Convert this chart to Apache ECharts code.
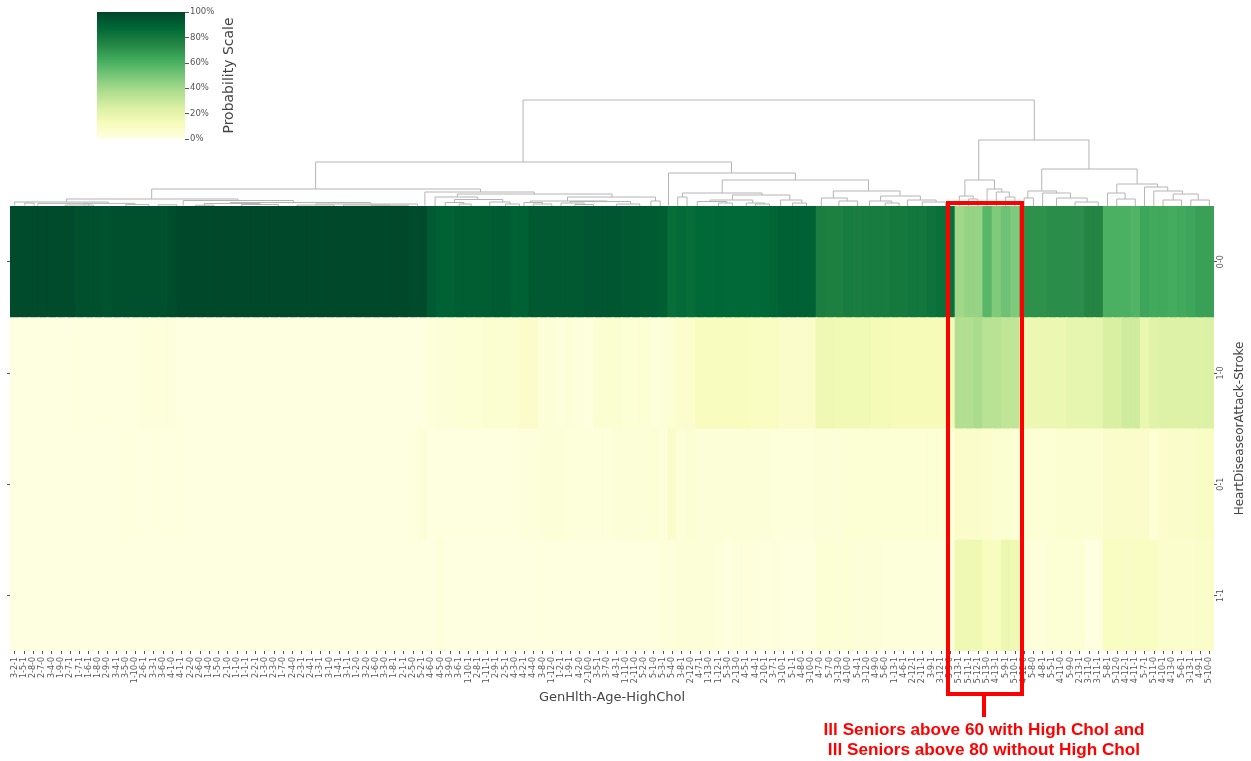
<!DOCTYPE html>
<html>
<head>
<meta charset="utf-8">
<title>Clustermap</title>
<script src="https://cdn.jsdelivr.net/npm/echarts@6/dist/echarts.min.js"></script>
<style>
  html, body { margin: 0; background: #fff; }
  #chart { width: 1251px; height: 761px; }
</style>
</head>
<body>
<div id="chart"></div>
<script>
// GenHlth-Age-HighChol, in dendrogram order
const columns = [
  '3-2-1','1-5-1','2-8-0','2-7-0','3-4-0','1-9-0','2-7-1','1-7-1','1-6-1','1-8-0','2-9-0','3-4-1','3-5-0','1-10-0','2-6-1','3-3-1','3-6-0','4-1-0','4-1-1',
  '2-2-0','2-6-0','1-4-0','1-5-0','2-1-0','1-1-0','1-1-1','2-2-1','1-3-0','2-3-0','1-7-0','2-4-0','2-3-1','2-4-1','1-3-1','3-1-0','1-4-1','3-1-1','1-2-0','3-2-0','1-6-0','3-3-0','1-8-1','2-1-1','2-5-0','5-2-1',
  '4-6-0','4-5-0','3-9-0','3-6-1','1-10-1','2-8-1','1-11-1','2-9-1','2-5-1','4-3-0','4-2-1','4-4-0','3-8-0','1-12-0','1-2-1','1-9-1','4-2-0','2-10-0','3-5-1','3-7-0','4-3-1','1-11-0','2-11-0','5-2-0','5-1-0',
  '5-3-1','5-4-0','3-8-1','2-12-0','4-7-1','1-13-0','1-12-1','5-3-0','2-13-0','4-5-1','4-4-1','2-10-1','3-7-1','3-10-1','5-1-1','4-8-0','3-10-0',
  '4-7-0','5-7-0','3-13-0','4-10-0','5-4-1','3-12-0','4-9-0','5-6-0','1-13-1','4-6-1','2-12-1','2-11-1','3-9-1','3-12-1','5-5-0',
  '5-13-1','5-11-1','5-12-1','5-13-0','4-13-1','5-9-1','5-10-1',
  '4-12-0','5-8-0','4-8-1','5-5-1','4-11-0','5-9-0','2-13-1','3-11-0','3-11-1','5-8-1','5-12-0','4-12-1','4-11-1','5-7-1','5-11-0','4-10-1','4-13-0','5-6-1','3-13-1','4-9-1','5-10-0'
];

// HeartDiseaseorAttack-Stroke
const rows = ['0-0', '1-0', '0-1', '1-1'];

// probability in percent, one value per column
const row00 = [
  98,98,98,98,98,98,98,96,96,96,95,96,96,96,96,96,96,97,
  99,99,99,99,99,99,99,99,99,99, 99,99,99,99,99,99,99,99,99,99, 99,99,99,99,99,98,98,
  92,90,90,91,91,91,91,92,92,90,90,93,93,93,93,93,93,94,94,94,94,93,93,92,92,
  91,85,86,85,87,87,88,87,87,87,87,88,89,90,90,90,90,
  78,77,77,79,78,79,79,79,80,80,81,81,83,84,84,
  40,43,43,57,48,52,48,
  71,71,71,72,72,72,72,75,75,60,60,60,59,64,63,63,62,63,64,66,66
];
const row10 = [
  1,1,1,1,1,1,1,2,2,2,2,2,2,2,3,3,3,3,
  1,1,1,1,1,1,1,1,1,1, 1,1,1,1,1,1,1,1,1,1, 1,1,1,1,1,1,1,
  3,4,4,5,5,5,6,6,6,6,8,8,4,4,3,4,3,2,6,6,6,5,5,5,3,
  4,5,7,7,11,11,11,11,11,11,10,10,10,8,8,8,8,
  16,16,15,15,15,15,14,14,13,13,13,13,13,13,13,
  36,36,38,34,34,32,32,
  15,17,17,17,17,19,19,19,19,25,25,28,28,18,22,23,23,23,23,23,24
];
const row01 = [
  1,1,1,1,1,1,1,1,1,1,1,1,2,2,1,2,2,2,2,
  1,1,1,1,1,1,1,1,1,1, 1,1,1,1,1,1,1,1,1,1, 1,1,1,1,2,4,
  2,2,2,2,2,2,2,2,2,2,3,3,4,4,4,3,3,3,3,3,4,4,4,4,5,
  3,8,4,6,4,4,4,4,4,4,4,4,3,3,3,3,3,
  4,4,4,5,5,5,5,5,5,5,5,5,5,5,5,
  8,8,8,7,6,6,5,
  5,5,5,5,6,6,6,6,6,8,8,8,8,8,5,7,8,8,8,9,9
];
const row11 = [
  1,1,1,1,1,1,1,1,1,1,1,1,1,1,1,1,1,1,1,
  1,1,1,1,1,1,1,1,1,1, 1,1,1,1,1,1,1,1,1,1, 1,1,1,1,1,1,
  1,3,1,1,1,1,1,1,1,1,1,1,2,2,2,2,2,2,2,2,2,2,2,2,2,
  3,3,4,4,4,4,3,2,3,3,3,2,3,2,2,2,2,
  5,5,4,5,4,4,4,3,3,3,3,3,3,3,3,
  16,16,16,11,11,17,16,
  3,3,3,5,5,5,5,2,2,10,10,9,10,10,10,7,7,7,7,8,8
];

// YlGn
const palette = ['#ffffe5','#f7fcb9','#d9f0a3','#addd8e','#78c679','#41ab5d','#238443','#006837','#004529'];

// dendrogram merges: left column, left height, right column, right height, merge height
const dendroLinks = [
  [55.4,44,110.6,66,106],
  [33,17,77.9,33,44],
  [15.3,7,50.8,14,17],
  [71.1,0.5,84.8,26,33],
  [76.9,13,92.7,15,26],
  // left block
  [6.1,4,24.6,5.5,7],
  [0.5,0.5,10.6,2.5,4],
  [1.6,0.5,2.6,0.5,3],
  [3,0.3,8.5,0.3,2.6],
  [8,1,13.5,1,2.6],
  [6,0,9,0,1],
  [12.5,0,15,0,1.4],
  [16,0,18,0,1.2],
  [18.7,0.5,30.6,3,5.5],
  [23.8,2.5,38.9,2,3.5],
  [21,0,27,1.5,2.5],
  [25,0,29,0,1.5],
  [33,1,44,0.3,2],
  [31,0,35,0,1],
  [36,0,41,0,1],
  [39,0,43,0,0.7],
  [20,0,22,0,0.8],
  // second block
  [44.8,0.5,56.6,12,14],
  [48.3,9,65,9,12],
  [45.9,0,50.5,6.5,9],
  [48,3.5,53.2,4,6.5],
  [47,0,49,2,3.5],
  [48.5,0,49.8,0,2],
  [51.8,0,54,2,4],
  [53.5,0,55,0,2],
  [60.2,5,69.7,5,9],
  [56.2,3.5,64.5,4.5,5],
  [55.5,0,57.5,2,3.5],
  [56.5,0,58.5,0,2],
  [60.5,3,67,2,4.5],
  [59.5,0,62,1.5,3],
  [61,0,63,0,1.5],
  [65.5,0,68,0,2],
  [69.2,0,70.2,0,5],
  // third block
  [72.6,9,81.2,11,13],
  [72.1,0,73.1,0,9],
  [78,6,84.2,6,11],
  [75.6,4.5,80.2,3,6],
  [74.2,0,77.4,3,4.5],
  [76.5,0,78,0,3],
  [79.5,0,81.5,2,3],
  [80.5,0,82,0,2],
  [83.2,0,85.5,3,6],
  [84.5,0,86,0,3],
  // fourth block
  [88.9,8,96.1,10,15],
  [87.6,0,90.4,5,8],
  [89.5,0,91.5,0,5],
  [94,5,98.3,6,10],
  [92.8,0,95.2,3,5],
  [94.5,0,96,0,3],
  [96.9,0,100,4,6],
  [98.5,0,101,0,4],
  // highlighted block
  [104.6,26,116.5,37,66],
  [103.1,10,106.3,17,26],
  [102.5,0,104,7,10],
  [103.5,0,104.5,0,7],
  [105.5,0,107.1,14,17],
  [106.5,0,107.9,9,14],
  [107.5,0,108.5,0,9],
  // right block
  [111.4,15,121.7,22,37],
  [109.9,8,113,13,15],
  [109.5,0,110.5,0,8],
  [111.5,0,114.5,8,13],
  [113,0,116.3,4,8],
  [115,0,117.5,0,4],
  [119.5,13,123.9,19,22],
  [118.5,0,120.4,7,13],
  [119.5,0,121.5,0,7],
  [122.5,0,125,15,19],
  [123.5,0,126.6,12,15],
  [125.6,6,128.3,6,12],
  [124.5,0,126.5,0,6],
  [127.5,0,129.5,0,6]
];

const grey = '#555555';
const hiddenLine = { show: true, onZero: false, lineStyle: { color: 'rgba(0,0,0,0)' } };
const chart = echarts.init(document.getElementById('chart'));

const cells = [];
[row00, row10, row01, row11].forEach((values, r) => {
  values.forEach((v, c) => cells.push([c, r, v]));
});

chart.setOption({
  animation: false,
  textStyle: { fontFamily: 'DejaVu Sans' },
  grid: [
    { left: 10, top: 206, width: 1204, height: 445, outerBoundsMode: 'none' },
    { left: 10, top: 96, width: 1204, height: 110, outerBoundsMode: 'none' },
    { left: 97, top: 12, width: 88, height: 127, outerBoundsMode: 'none' }
  ],
  xAxis: [
    {
      gridIndex: 0,
      type: 'category',
      data: columns,
      name: 'GenHlth-Age-HighChol',
      nameLocation: 'middle',
      nameGap: 36,
      nameTextStyle: { fontSize: 13, color: '#444' },
      axisLine: hiddenLine,
      axisTick: { show: true, alignWithLabel: true, length: 3, lineStyle: { color: grey } },
      axisLabel: { interval: 0, rotate: 90, fontSize: 8, color: grey, margin: 6 },
      splitLine: { show: false }
    },
    { gridIndex: 1, type: 'value', min: 0, max: 130, show: false },
    { gridIndex: 2, type: 'value', min: 0, max: 1, show: false }
  ],
  yAxis: [
    {
      gridIndex: 0,
      type: 'category',
      data: rows,
      inverse: true,
      position: 'right',
      name: 'HeartDiseaseorAttack-Stroke',
      nameLocation: 'middle',
      nameRotate: 90,
      nameGap: 20,
      nameTextStyle: { fontSize: 12, color: '#444' },
      axisLine: hiddenLine,
      axisTick: { show: true, alignWithLabel: true, length: 3, lineStyle: { color: grey } },
      axisLabel: { rotate: 90, fontSize: 8, color: grey, margin: 3 },
      splitLine: { show: false }
    },
    {
      gridIndex: 0,
      type: 'category',
      data: rows,
      inverse: true,
      position: 'left',
      axisLine: hiddenLine,
      axisTick: { show: true, alignWithLabel: true, length: 3, lineStyle: { color: grey } },
      axisLabel: { show: false },
      splitLine: { show: false }
    },
    { gridIndex: 1, type: 'value', min: 0, max: 110, show: false },
    {
      gridIndex: 2,
      type: 'value',
      min: 0,
      max: 100,
      interval: 20,
      position: 'right',
      name: 'Probability Scale',
      nameLocation: 'middle',
      nameRotate: 90,
      nameGap: 37,
      nameTextStyle: { fontSize: 14, color: '#444' },
      axisLine: hiddenLine,
      axisTick: { show: true, length: 4, lineStyle: { color: grey } },
      axisLabel: { fontSize: 8.5, color: grey, margin: 5, formatter: '{value}%' },
      splitLine: { show: false }
    }
  ],
  visualMap: {
    show: false,
    type: 'continuous',
    seriesIndex: 0,
    dimension: 2,
    min: 0,
    max: 100,
    inRange: { color: palette }
  },
  series: [
    {
      // drawn as overlapping rects, a plain heatmap leaves seams on the fractional cell width
      name: 'probability',
      type: 'custom',
      xAxisIndex: 0,
      yAxisIndex: 0,
      data: cells,
      encode: { x: 0, y: 1 },
      silent: true,
      renderItem: function (params, api) {
        const p = api.coord([api.value(0), api.value(1)]);
        const s = api.size([1, 1]);
        const x = p[0] - s[0] / 2;
        const y = p[1] - s[1] / 2;
        const box = params.coordSys;
        return {
          type: 'rect',
          shape: {
            x: x,
            y: y,
            width: Math.min(s[0] + 1.5, box.x + box.width - x),
            height: Math.min(s[1] + 1.5, box.y + box.height - y)
          },
          style: { fill: api.visual('color') }
        };
      }
    },
    {
      name: 'dendrogram',
      type: 'custom',
      xAxisIndex: 1,
      yAxisIndex: 2,
      data: dendroLinks,
      encode: { x: [0, 2], y: [1, 3, 4] },
      silent: true,
      clip: false,
      renderItem: function (params, api) {
        const a = api.coord([api.value(0), api.value(1)]);
        const b = api.coord([api.value(0), api.value(4)]);
        const c = api.coord([api.value(2), api.value(4)]);
        const d = api.coord([api.value(2), api.value(3)]);
        return {
          type: 'polyline',
          shape: { points: [a, b, c, d] },
          style: { fill: null, stroke: '#b4b4b4', lineWidth: 1 }
        };
      }
    },
    {
      name: 'scale',
      type: 'line',
      xAxisIndex: 2,
      yAxisIndex: 3,
      data: [],
      silent: true
    }
  ],
  graphic: [
    {
      // colour scale
      type: 'rect',
      shape: { x: 97, y: 12, width: 88, height: 127 },
      style: {
        fill: new echarts.graphic.LinearGradient(0, 1, 0, 0,
          palette.map((color, i) => ({ offset: i / (palette.length - 1), color: color })))
      }
    },
    {
      type: 'rect',
      z: 100,
      shape: { x: 948, y: 203, width: 74, height: 491 },
      style: { fill: null, stroke: '#ff0000', lineWidth: 4 }
    },
    {
      type: 'line',
      z: 100,
      shape: { x1: 984, y1: 694, x2: 984, y2: 717 },
      style: { stroke: '#ff0000', lineWidth: 4 }
    },
    {
      type: 'text',
      z: 100,
      x: 984,
      y: 730,
      style: {
        text: 'Ill Seniors above 60 with High Chol and',
        fill: '#ff0000',
        font: 'bold 17.2px "Liberation Sans"',
        textAlign: 'center',
        textVerticalAlign: 'middle'
      }
    },
    {
      type: 'text',
      z: 100,
      x: 984,
      y: 750,
      style: {
        text: 'Ill Seniors above 80 without High Chol',
        fill: '#ff0000',
        font: 'bold 17.2px "Liberation Sans"',
        textAlign: 'center',
        textVerticalAlign: 'middle'
      }
    }
  ]
});
</script>
</body>
</html>
